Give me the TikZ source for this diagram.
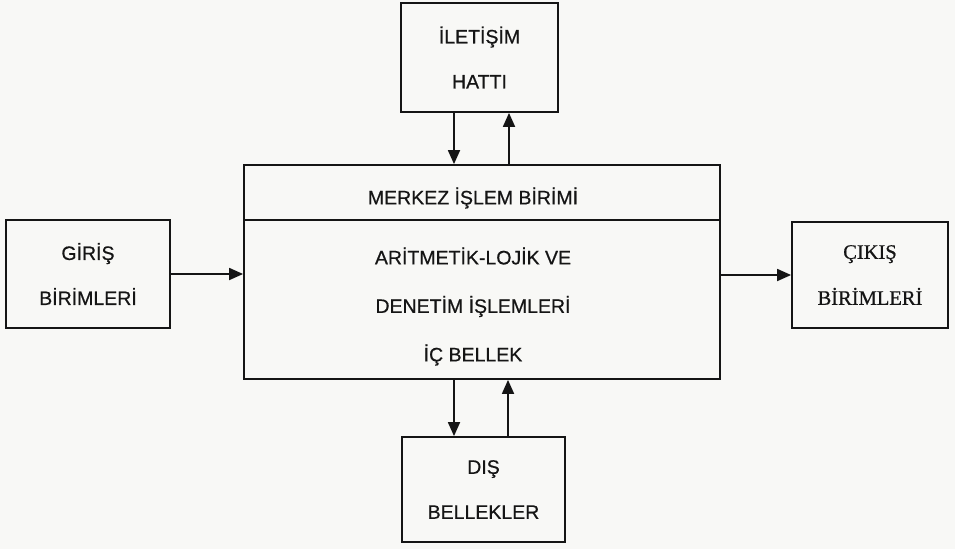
\documentclass[tikz,border=0pt]{standalone}
\usepackage{fontspec}
\setmainfont[FakeBold=0.6]{Liberation Sans}
\newfontfamily\serifcik[FakeBold=0.6]{Liberation Serif}
\usetikzlibrary{arrows.meta}
\definecolor{paper}{HTML}{F8F8F6}
\definecolor{ink}{HTML}{151515}
\tikzset{
  box/.style={draw=ink, line width=1.8pt, fill=paper, rectangle, inner sep=0pt, align=center,
    font=\fontsize{19.5}{45}\selectfont, text=ink},
  lbl/.style={inner sep=0pt, align=center, font=\fontsize{19.5}{48.5}\selectfont, text=ink},
  conn/.style={draw=ink, line width=1.8pt, -{Triangle[length=14pt,width=12pt]}},
}
\begin{document}
\begin{tikzpicture}[x=1pt,y=-1pt]
\fill[paper] (0,0) rectangle (955,549);
\useasboundingbox (0,0) rectangle (955,549);

\node[box, minimum width=476pt, minimum height=214pt] (main) at (482,272) {};
\draw[ink, line width=1.8pt] ([yshift=-56pt]main.north west) -- ([yshift=-56pt]main.north east);
\node[lbl] (cpu) at (473,198) {MERKEZ İŞLEM BİRİMİ};
\node[lbl] (alu) at (473,306.5) {ARİTMETİK-LOJİK VE\\DENETİM İŞLEMLERİ\\İÇ BELLEK};

\node[box, minimum width=157pt, minimum height=109pt] (top) at (479.5,57.5) {İLETİŞİM\\HATTI};
\node[box, minimum width=164pt, minimum height=108pt] (left) at (88,274) {GİRİŞ\\BİRİMLERİ};
\node[box, minimum width=156pt, minimum height=106pt, font=\serifcik\fontsize{20.5}{46}\selectfont] (right) at (870,275) {ÇIKIŞ\\BİRİMLERİ};
\node[box, minimum width=163pt, minimum height=105pt] (bottom) at (483.5,489.5) {DIŞ\\BELLEKLER};

\draw[conn] ([xshift=-25.5pt]top.south) -- ([xshift=-25.5pt]top.south |- main.north);
\draw[conn] ([xshift=29.5pt]top.south |- main.north) -- ([xshift=29.5pt]top.south);
\draw[conn] ([xshift=-29.5pt]bottom.north |- main.south) -- ([xshift=-29.5pt]bottom.north);
\draw[conn] ([xshift=24.5pt]bottom.north) -- ([xshift=24.5pt]bottom.north |- main.south);
\draw[conn] (left.east) -- (left.east -| main.west);
\draw[conn] (right.west -| main.east) -- (right.west);
\end{tikzpicture}
\end{document}
